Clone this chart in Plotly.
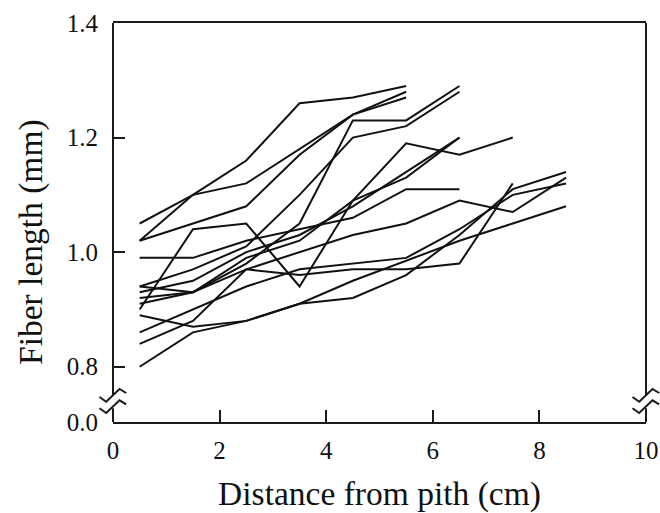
import plotly.graph_objects as go

# distance from pith (cm) positions where fiber length was measured
positions = [0.5, 1.5, 2.5, 3.5, 4.5, 5.5, 6.5, 7.5, 8.5]

# fiber length (mm) per tree
tree_01 = [1.02, 1.10, 1.16, 1.26, 1.27, 1.29]
tree_02 = [1.05, 1.10, 1.12, 1.18, 1.24, 1.28]
tree_03 = [1.02, 1.05, 1.08, 1.17, 1.24, 1.27]
tree_04 = [0.92, 0.93, 0.98, 1.05, 1.23, 1.23, 1.29]
tree_05 = [0.94, 0.97, 1.01, 1.10, 1.20, 1.22, 1.28]
tree_06 = [0.93, 0.95, 1.00, 1.03, 1.08, 1.14, 1.20]
tree_07 = [0.91, 0.93, 0.99, 1.02, 1.09, 1.13, 1.20]
tree_08 = [0.99, 0.99, 1.02, 1.04, 1.06, 1.11, 1.11]
tree_09 = [0.90, 1.04, 1.05, 0.94, 1.09, 1.19, 1.17, 1.20]
tree_10 = [0.94, 0.93, 0.97, 1.00, 1.03, 1.05, 1.09, 1.07, 1.13]
tree_11 = [0.89, 0.87, 0.88, 0.91, 0.95, 0.985, 1.02, 1.05, 1.08]
tree_12 = [0.84, 0.88, 0.97, 0.96, 0.97, 0.97, 0.98, 1.12]
tree_13 = [0.80, 0.86, 0.88, 0.91, 0.92, 0.96, 1.03, 1.11, 1.14]
tree_14 = [0.86, 0.90, 0.94, 0.97, 0.98, 0.99, 1.04, 1.10, 1.12]

trees = [tree_01, tree_02, tree_03, tree_04, tree_05, tree_06, tree_07,
         tree_08, tree_09, tree_10, tree_11, tree_12, tree_13, tree_14]

y_tick_vals = [0.7035, 0.8, 1.0, 1.2, 1.4]
y_tick_text = ["0.0", "0.8", "1.0", "1.2", "1.4"]
x_tick_vals = [0, 2, 4, 6, 8, 10]

W, H = 660, 513
L, R, T, B = 113, 14, 23, 91
PW, PH = W - L - R, H - T - B

def px(xp):
    return (xp - L) / PW

def py(yp):
    return (H - B - yp) / PH

fig = go.Figure()
for vals in trees:
    fig.add_trace(go.Scatter(x=positions[:len(vals)], y=vals, mode="lines",
                             line=dict(color="#111111", width=2),
                             showlegend=False, hoverinfo="skip"))

AX = "#1a1a1a"
shapes = []
# left and right vertical axis lines with a break
for xa in (L, L + PW):
    shapes.append(dict(type="line", xref="paper", yref="paper",
                       x0=px(xa), x1=px(xa), y0=py(T), y1=py(395.2),
                       line=dict(color=AX, width=2)))
    shapes.append(dict(type="line", xref="paper", yref="paper",
                       x0=px(xa), x1=px(xa), y0=py(408.3), y1=py(H - B),
                       line=dict(color=AX, width=2)))
    for dy in (0, 11.3):
        pts = [(xa - 13.5, 397 + dy), (xa - 6.8, 401.7 + dy),
               (xa + 6.5, 389 + dy), (xa + 13.2, 393 + dy)]
        path = "M " + " L ".join(f"{px(a):.5f},{py(b):.5f}" for a, b in pts)
        shapes.append(dict(type="path", xref="paper", yref="paper", path=path,
                           line=dict(color=AX, width=2)))

serif = "Liberation Serif"
fig.update_layout(
    width=W, height=H,
    margin=dict(l=L, r=R, t=T, b=B, pad=0, autoexpand=False),
    paper_bgcolor="white", plot_bgcolor="white",
    font=dict(family=serif, color="#111111", size=25),
    shapes=shapes,
    annotations=[dict(text="Fiber length (mm)", textangle=-90,
                      xref="paper", yref="paper", x=px(31), y=py(242),
                      xanchor="center", yanchor="middle", showarrow=False,
                      font=dict(family=serif, size=33.5, color="#111111"))],
    xaxis=dict(range=[0, 10], tickvals=x_tick_vals, ticks="inside", ticklen=12,
               tickwidth=2, tickcolor=AX, showline=True, mirror=True,
               linecolor=AX, linewidth=2, showgrid=False, zeroline=False,
               automargin=False,
               tickfont=dict(family=serif, size=25), ticklabelstandoff=5,
               title=dict(text="Distance from pith (cm)",
                          font=dict(family=serif, size=33.5), standoff=20)),
    yaxis=dict(range=[0.7035, 1.4], tickvals=y_tick_vals, ticktext=y_tick_text,
               ticks="inside", ticklen=12, tickwidth=2, tickcolor=AX,
               showline=False, showgrid=False, zeroline=False,
               automargin=False,
               tickfont=dict(family=serif, size=25), ticklabelstandoff=14),
)

fig.write_html("out.html")
